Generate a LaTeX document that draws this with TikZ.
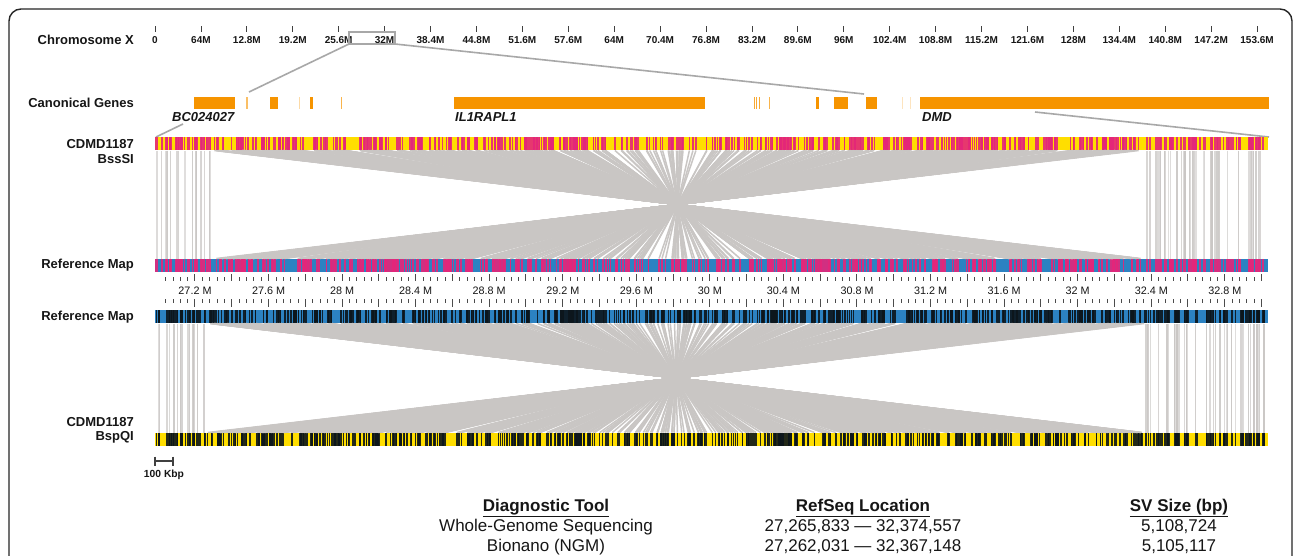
\documentclass[tikz,border=0pt]{standalone}
\usepackage{fontspec}
\setmainfont{Liberation Sans}
\definecolor{geneor}{RGB}{246,148,0}
\definecolor{yel}{RGB}{255,222,0}
\definecolor{pinkm}{RGB}{228,38,122}
\definecolor{blu}{RGB}{44,130,194}
\definecolor{blk}{RGB}{12,22,28}
\definecolor{aln}{RGB}{201,198,196}
\definecolor{zoomg}{RGB}{168,168,168}
\definecolor{txt}{RGB}{22,22,22}
\tikzset{
 lab/.style={anchor=base east, font=\bfseries\fontsize{13}{15}\selectfont, text=txt, inner sep=0pt},
 axlab/.style={anchor=base, font=\bfseries\fontsize{10}{12}\selectfont, text=txt, inner sep=0pt},
 rulab/.style={anchor=base, font=\fontsize{10.8}{12}\selectfont, text=txt, inner sep=0pt},
 genelab/.style={anchor=base west, font=\bfseries\itshape\fontsize{13}{15}\selectfont, text=txt, inner sep=0pt},
 tabhead/.style={anchor=base, font=\bfseries\fontsize{17}{19}\selectfont, text=txt, inner sep=0pt},
 tabcell/.style={anchor=base, font=\fontsize{17}{19}\selectfont, text=txt, inner sep=0pt},
 alnline/.style={draw=aln, line width=1.5pt},
 zoomline/.style={draw=zoomg, line width=1.6pt},
 tickline/.style={draw=black!75, line width=0.8pt},
 gene/.style={fill=geneor},
}
\begin{document}
\begin{tikzpicture}[x=1pt,y=-1pt]
\useasboundingbox (0,0) rectangle (1295,555);
\clip (0,0) rectangle (1295,555);
\fill[white] (0,0) rectangle (1295,555);
\draw[line width=1.4pt, draw=black!85, rounded corners=12pt] (9,9) rectangle (1292,640);

% ---------- chromosome axis
\node[lab] (chrlab) at (134,44.5) {Chromosome X};
\foreach \lab [count=\i from 0] in {0,64M,12.8M,19.2M,25.6M,32M,38.4M,44.8M,51.6M,57.6M,64M,70.4M,76.8M,83.2M,89.6M,96M,102.4M,108.8M,115.2M,121.6M,128M,134.4M,140.8M,147.2M,153.6M}{
  \draw[tickline] ({155+\i*45.92},26) -- ({155+\i*45.92},32);
  \node[axlab] (ax\i) at ({155+\i*45.92},43.3) {\lab};
}
\draw[zoomline] (349,32) rectangle (395,44);
\coordinate (zbl) at (349,44);
\coordinate (zbr) at (395,44);
\coordinate (zgl) at (249,92);
\coordinate (zgr) at (864,94);
\draw[zoomline] (zbl) -- (zgl);
\draw[zoomline] (zbr) -- (zgr);

% ---------- genes
\node[lab] (genlab) at (134,107.3) {Canonical Genes};
\fill[gene] (194,97) rectangle (235,109);
\fill[geneor!60] (246.3,97) rectangle (247.8,109);
\fill[gene] (270,97) rectangle (278,109);
\fill[geneor!35] (299,97) rectangle (300.2,109);
\fill[gene] (310,97) rectangle (313,109);
\fill[geneor!70] (341.2,97) rectangle (342.2,109);
\fill[gene] (454,97) rectangle (705,109);
\fill[geneor!80] (754,97) rectangle (754.9,109);
\fill[geneor!80] (756.3,97) rectangle (757.2,109);
\fill[geneor!80] (758.5,97) rectangle (759.3,109);
\fill[geneor!70] (769,97) rectangle (770,109);
\fill[gene] (816,97) rectangle (819,109);
\fill[gene] (834,97) rectangle (848,109);
\fill[gene] (866,97) rectangle (877,109);
\fill[geneor!25] (902,97) rectangle (902.7,109);
\fill[geneor!25] (910,97) rectangle (910.7,109);
\fill[gene] (920,97) rectangle (1269,109);
\node[genelab] (g1) at (172,121) {BC024027};
\node[genelab] (g2) at (455,121) {IL1RAPL1};
\node[genelab] (g3) at (922,121) {DMD};
\coordinate (g1a) at (183,124);
\coordinate (g1b) at (156,137);
\coordinate (g3a) at (1035,112);
\coordinate (g3b) at (1269,137);
\draw[zoomline] (g1a) -- (g1b);
\draw[zoomline] (g3a) -- (g3b);

% ---------- labels
\node[lab] (s1a) at (134,148.3) {CDMD1187};
\node[lab] (s1b) at (134,163.3) {BssSI};
\node[lab] (r1) at (134,268.3) {Reference Map};
\node[lab] (r2) at (134,320) {Reference Map};
\node[lab] (s2a) at (134,426) {CDMD1187};
\node[lab] (s2b) at (134,440.5) {BspQI};

% ---------- bar backgrounds
\fill[yel] (155,137) rectangle (1268,150);
\fill[blu] (155,259) rectangle (1268,272);
\fill[blu] (155,310) rectangle (1268,323);
\fill[yel] (155,433) rectangle (1268,446);

% ---------- pair A : BssSI <-> reference (pink)
\pgfmathsetseed{11}
\foreach \i in {1,...,620}{
  \pgfmathsetmacro{\p}{155+rnd*1111}
  \pgfmathsetmacro{\w}{0.6+1.9*rnd}
  \pgfmathsetmacro{\inv}{and(\p>212,\p<1143)}
  \pgfmathsetmacro{\q}{\inv>0.5 ? 1355-\p-\w : \p}
  \pgfmathsetmacro{\r}{rnd}
  \pgfmathtruncatemacro{\s}{55+45*rnd}
  \ifdim\inv pt>0.5pt
    \draw[alnline] ({\p+\w/2},150.5) -- ({\q+\w/2},258.5);
  \else
    \ifdim\r pt<0.6pt
      \draw[draw=aln!\s!white, line width=1.3pt] ({\p+\w/2},150.5) -- ({\q+\w/2},258.5);
    \fi
  \fi
  \fill[pinkm, opacity=0.9] (\p,137) rectangle ++(\w,13);
  \fill[pinkm, opacity=0.9] (\q,259) rectangle ++(\w,13);
}

% ---------- pair B : reference <-> BspQI (black)
\pgfmathsetseed{5}
\foreach \i in {1,...,640}{
  \pgfmathsetmacro{\p}{155+rnd*1111}
  \pgfmathsetmacro{\w}{0.5+1.8*rnd}
  \pgfmathsetmacro{\inv}{and(\p>207,\p<1145)}
  \pgfmathsetmacro{\q}{\inv>0.5 ? 1352-\p-\w : \p}
  \pgfmathsetmacro{\r}{rnd}
  \pgfmathtruncatemacro{\s}{55+45*rnd}
  \ifdim\inv pt>0.5pt
    \draw[alnline] ({\p+\w/2},323.5) -- ({\q+\w/2},432.5);
  \else
    \ifdim\r pt<0.6pt
      \draw[draw=aln!\s!white, line width=1.3pt] ({\p+\w/2},323.5) -- ({\q+\w/2},432.5);
    \fi
  \fi
  \fill[blk, opacity=0.9] (\p,310) rectangle ++(\w,13);
  \fill[blk, opacity=0.9] (\q,433) rectangle ++(\w,13);
}

% ---------- ruler between reference maps
\foreach \k in {0,...,149}{
  \pgfmathsetmacro{\xx}{195+(27.04+0.04*\k-27.2)*183.9}
  \pgfmathtruncatemacro{\m}{mod(\k,5)}
  \ifnum\m=4
    \draw[draw=black!70, line width=1pt] (\xx,274) -- (\xx,281);
    \draw[draw=black!70, line width=1pt] (\xx,299) -- (\xx,307);
  \else
    \draw[draw=black!70, line width=0.7pt] (\xx,277) -- (\xx,281);
    \draw[draw=black!70, line width=0.7pt] (\xx,299) -- (\xx,303);
  \fi
}
\foreach \lab [count=\i from 0] in {27.2 M,27.6 M,28 M,28.4 M,28.8 M,29.2 M,29.6 M,30 M,30.4 M,30.8 M,31.2 M,31.6 M,32 M,32.4 M,32.8 M}{
  \node[rulab] (rl\i) at ({195+\i*73.56},294) {\lab};
}

% ---------- scale bar
\coordinate (sb1) at (155,461);
\coordinate (sb2) at (173,461);
\draw[draw=black!75, line width=2.4pt] (sb1) -- (sb2);
\draw[draw=black!75, line width=1.5pt] (155,456.5) -- (155,466);
\draw[draw=black!75, line width=1.5pt] (173,456.5) -- (173,466);
\node[anchor=base, font=\bfseries\fontsize{10.3}{12}\selectfont, text=txt, inner sep=0pt] (sblab) at (164,477) {100 Kbp};

% ---------- table
\node[tabhead] (h1) at (546,511) {\underline{Diagnostic Tool}};
\node[tabhead] (h2) at (863,511) {\underline{RefSeq Location}};
\node[tabhead] (h3) at (1179,511) {\underline{SV Size (bp)}};
\node[tabcell] (c11) at (546,531.5) {Whole-Genome Sequencing};
\node[tabcell] (c12) at (863,531.5) {27,265,833 — 32,374,557};
\node[tabcell] (c13) at (1179,531.5) {5,108,724};
\node[tabcell] (c21) at (546,551.5) {Bionano (NGM)};
\node[tabcell] (c22) at (863,551.5) {27,262,031 — 32,367,148};
\node[tabcell] (c23) at (1179,551.5) {5,105,117};
\end{tikzpicture}
\end{document}
